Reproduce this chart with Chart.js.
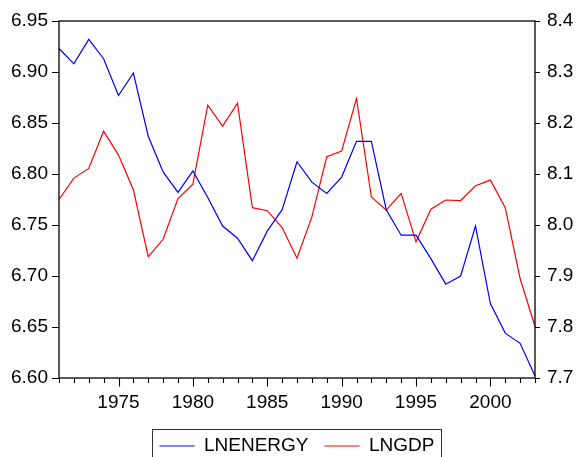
<!DOCTYPE html>
<html>
<head>
<meta charset="utf-8">
<script src="https://cdn.jsdelivr.net/npm/chart.js@4.4.1/dist/chart.umd.min.js"></script>
<style>
  html, body { margin: 0; padding: 0; background: #fff; }
  #wrap { width: 577px; height: 457px; }
</style>
</head>
<body>
<div id="wrap"><canvas id="chart" width="577" height="457"></canvas></div>
<script>
// Data
const years = [1971, 1972, 1973, 1974, 1975, 1976, 1977, 1978, 1979, 1980,
  1981, 1982, 1983, 1984, 1985, 1986, 1987, 1988, 1989, 1990,
  1991, 1992, 1993, 1994, 1995, 1996, 1997, 1998, 1999, 2000,
  2001, 2002, 2003];

const lnEnergy = [6.923, 6.908, 6.932, 6.913, 6.877, 6.899, 6.837, 6.802, 6.782, 6.803,
  6.777, 6.749, 6.737, 6.715, 6.744, 6.765, 6.812, 6.792, 6.781, 6.797,
  6.832, 6.832, 6.765, 6.740, 6.740, 6.717, 6.692, 6.700, 6.749, 6.673,
  6.644, 6.634, 6.602];

const lnGdp = [8.050, 8.092, 8.111, 8.184, 8.137, 8.069, 7.938, 7.972, 8.052, 8.080,
  8.235, 8.194, 8.239, 8.034, 8.028, 7.995, 7.935, 8.016, 8.134, 8.145,
  8.248, 8.055, 8.029, 8.062, 7.967, 8.031, 8.049, 8.048, 8.077, 8.088,
  8.034, 7.895, 7.801];

const leftRange = { min: 6.60, max: 6.95, step: 0.05 };
const rightRange = { min: 7.7, max: 8.4, step: 0.1 };

const FONT = '"Liberation Sans", Arial, sans-serif';

// frame + outward tick marks, legend border
const framePlugin = {
  id: 'frame',
  afterDraw(chart) {
    const { ctx, chartArea: a } = chart;
    const x = chart.scales.x, yl = chart.scales.y, yr = chart.scales.y2;
    ctx.save();
    ctx.strokeStyle = '#000';
    ctx.lineWidth = 1.3;
    ctx.strokeRect(a.left, a.top, a.right - a.left, a.bottom - a.top);

    ctx.lineWidth = 1.1;
    ctx.beginPath();
    x.ticks.forEach((t, i) => {
      const px = Math.round(x.getPixelForTick(i)) + 0.5;
      const len = years[i] % 5 === 0 ? 8.5 : 5;
      ctx.moveTo(px, a.bottom);
      ctx.lineTo(px, a.bottom + len);
    });
    yl.ticks.forEach(t => {
      const py = Math.round(yl.getPixelForValue(t.value)) + 0.5;
      ctx.moveTo(a.left - 7, py);
      ctx.lineTo(a.left, py);
    });
    yr.ticks.forEach(t => {
      const py = Math.round(yr.getPixelForValue(t.value)) + 0.5;
      ctx.moveTo(a.right, py);
      ctx.lineTo(a.right + 5, py);
    });
    ctx.stroke();

    // legend box (bottom edge runs off the canvas like the original)
    const hb = chart.legend.legendHitBoxes;
    if (hb && hb.length) {
      const first = hb[0], last = hb[hb.length - 1];
      const x0 = Math.round(first.left - 8) + 0.5;
      const x1 = Math.round(last.left + last.width + 7) + 0.5;
      const y0 = Math.round(first.top + first.height / 2 - 17) + 0.5;
      ctx.strokeStyle = '#333';
      ctx.lineWidth = 1;
      ctx.strokeRect(x0, y0, x1 - x0, 60);
    }
    ctx.restore();
  }
};

new Chart(document.getElementById('chart'), {
  type: 'line',
  data: {
    labels: years,
    datasets: [
      { label: 'LNENERGY', data: lnEnergy, yAxisID: 'y', borderColor: '#0000ff', backgroundColor: '#0000ff', borderWidth: 1.2, pointRadius: 0, tension: 0 },
      { label: 'LNGDP', data: lnGdp, yAxisID: 'y2', borderColor: '#ff0000', backgroundColor: '#ff0000', borderWidth: 1.2, pointRadius: 0, tension: 0 }
    ]
  },
  options: {
    responsive: false,
    animation: false,
    layout: { padding: { top: 21, bottom: -8.5, left: 0, right: 0 } },
    plugins: {
      tooltip: { enabled: false },
      legend: {
        position: 'bottom',
        fullSize: false,
        labels: {
          color: '#000',
          font: { family: FONT, size: 19 },
          usePointStyle: true,
          pointStyle: 'line',
          pointStyleWidth: 35,
          padding: 16
        }
      }
    },
    scales: {
      x: {
        type: 'category',
        offset: false,
        grid: { drawOnChartArea: false, color: 'rgba(0,0,0,0)', tickLength: 8 },
        border: { display: false },
        ticks: {
          autoSkip: false, maxRotation: 0, padding: 5, color: '#000',
          font: { family: FONT, size: 19 },
          callback: (v, i) => (years[i] % 5 === 0 ? String(years[i]) : '')
        },
        afterFit: s => { s.height = 42.5; }
      },
      y: {
        position: 'left',
        min: leftRange.min, max: leftRange.max,
        grid: { drawOnChartArea: false, color: 'rgba(0,0,0,0)', tickLength: 7 },
        border: { display: false },
        ticks: {
          stepSize: leftRange.step, padding: 4, color: '#000',
          font: { family: FONT, size: 19 },
          callback: v => Number(v).toFixed(2)
        },
        afterFit: s => { s.width = 59; }
      },
      y2: {
        position: 'right',
        min: rightRange.min, max: rightRange.max,
        grid: { drawOnChartArea: false, color: 'rgba(0,0,0,0)', tickLength: 5 },
        border: { display: false },
        ticks: {
          stepSize: rightRange.step, padding: 7, color: '#000',
          font: { family: FONT, size: 19 },
          callback: v => Number(v).toFixed(1)
        },
        afterFit: s => { s.width = 42; }
      }
    }
  },
  plugins: [framePlugin]
});
</script>
</body>
</html>
